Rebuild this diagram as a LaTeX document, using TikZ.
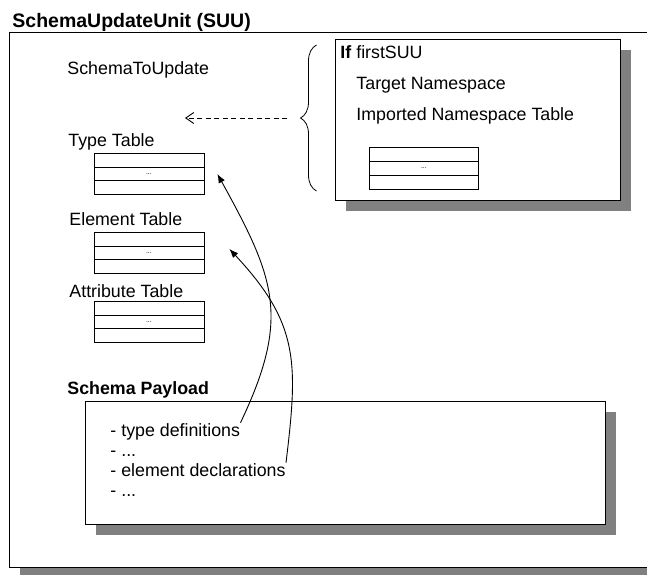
\documentclass[tikz,border=0pt]{standalone}
\usepackage{fontspec}
\setmainfont{Liberation Sans}
\usetikzlibrary{arrows.meta,decorations.pathreplacing,shadows}
\begin{document}
\begin{tikzpicture}[x=1pt, y=-1pt, line width=0.9pt,
    every node/.style={inner sep=0pt, anchor=base west, font=\fontsize{17.8}{20}\selectfont},
    box/.style={draw, fill=white, anchor=north west,
      drop shadow={shadow xshift=11pt, shadow yshift=-11pt, fill=black!50, opacity=1}},
    tab/.style={draw, anchor=north west, minimum width=110pt, minimum height=41pt,
      font=\fontsize{7}{8}\selectfont,
      path picture={\draw ([yshift=-13.7pt]path picture bounding box.north west) -- ([yshift=-13.7pt]path picture bounding box.north east)
                          ([yshift=13.7pt]path picture bounding box.south west) -- ([yshift=13.7pt]path picture bounding box.south east);}},
    link/.style={-{Latex[length=9pt, width=7pt]}}]
  \useasboundingbox (0,0) rectangle (647,574);
  \clip (0,0) rectangle (647,574);

  \node (suu) at (12,27) [font=\fontsize{19.5}{22}\selectfont\bfseries] {SchemaUpdateUnit (SUU)};
  \node[box, minimum width=660pt, minimum height=535pt] (unit) at (9,32) {};

  \node (upd) at (67,74) {SchemaToUpdate};
  \node (typelbl) at (68,146) {Type Table};
  \node[tab] (typetab) at (93.5,153) {...};
  \node (elemlbl) at (69,225) {Element Table};
  \node[tab] (elemtab) at (93.5,232) {...};
  \node (attrlbl) at (69,297) {Attribute Table};
  \node[tab] (attrtab) at (93.5,301) {...};

  \node[box, minimum width=285pt, minimum height=161pt] (first) at (335,39) {};
  \node (iflbl) at (340,58) {\textbf{If} firstSUU};
  \node (tns) at (356,89) {Target Namespace};
  \node (ins) at (356,120) {Imported Namespace Table};
  \node[tab, minimum width=109pt, minimum height=42pt] (nstab) at (369,147) {...};

  \draw[decorate, decoration={brace, amplitude=16pt}, line width=0.8pt] (316.5,191) -- (316.5,45);
  \coordinate (bracetip) at (287,118);
  \coordinate (updtarget) at (185,118);
  \draw[dash pattern=on 5pt off 3.5pt, -{Straight Barb[length=8pt, width=11pt]}] (bracetip) -- (updtarget);

  \node (pl) at (67,394) [font=\fontsize{17.8}{20}\selectfont\bfseries] {Schema Payload};
  \node[box, minimum width=520pt, minimum height=123pt] (payload) at (85,401) {};
  \node (typedef) at (110,436) {- type definitions};
  \node (dots1) at (110,456) {- ...};
  \node (elemdecl) at (110,476) {- element declarations};
  \node (dots2) at (110,496) {- ...};

  \draw[link] (typedef.north east) .. controls +(50,-105) and +(58,105) .. ([xshift=13pt]typetab.east);
  \draw[link] (elemdecl.north east) .. controls +(12,-100) and +(70,75) .. ([xshift=25pt, yshift=4pt]elemtab.east);
\end{tikzpicture}
\end{document}
